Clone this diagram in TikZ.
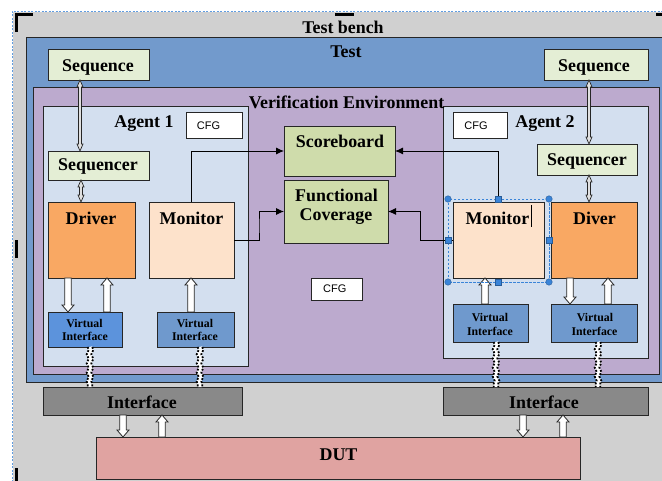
\documentclass[tikz,border=0pt]{standalone}
\usepackage{fontspec}
\setmainfont{Liberation Serif}
\newfontfamily\cfgfont{Liberation Sans}
\usetikzlibrary{calc,arrows.meta,decorations.pathmorphing}

\definecolor{benchgrey}{HTML}{D0D0D0}
\definecolor{testblue}{HTML}{729ACC}
\definecolor{vepurple}{HTML}{BCAACE}
\definecolor{agentblue}{HTML}{D3DFEF}
\definecolor{seqgreen}{HTML}{E4EED5}
\definecolor{drvorange}{HTML}{F9A863}
\definecolor{monpeach}{HTML}{FDE2CB}
\definecolor{sbgreen}{HTML}{CFDCAB}
\definecolor{viblue}{HTML}{5C93DC}
\definecolor{vigrey}{HTML}{6F99CD}
\definecolor{ifgrey}{HTML}{898989}
\definecolor{dutpink}{HTML}{E0A3A1}
\definecolor{selblue}{HTML}{3A84D8}

\newcommand\mkbox[6]{\node[#6, minimum width={(#4)-(#2)}, minimum height={(#5)-(#3)}] (#1) at ({((#2)+(#4))/2},{((#3)+(#5))/2}) {};}
\newcommand\mktext[5]{\node[#4, anchor=base] (#1) at (#2,#3) {#5};}
% hollow block arrow: x from tail, y from tail and tip
\newcommand\blockarrow[2]{\draw[hollowarrow] let \p1=(#1), \p2=(#2), \n1={(\y2-\y1)/abs(\y2-\y1)} in
  (\x1-3.3pt,\y1) -- (\x1-3.3pt,\y2-\n1*7pt) -- (\x1-6pt,\y2-\n1*7pt) -- (\x1,\y2) -- (\x1+6pt,\y2-\n1*7pt) -- (\x1+3.3pt,\y2-\n1*7pt) -- (\x1+3.3pt,\y1) -- cycle;}
% thin double-headed arrow
\newcommand\thinarrow[2]{\draw[thinarr] let \p1=(#1), \p2=(#2), \n1={(\y2-\y1)/abs(\y2-\y1)} in
  (\x1,\y1) -- (\x1+3pt,\y1+\n1*7pt) -- (\x1+1.5pt,\y1+\n1*7pt) -- (\x1+1.5pt,\y2-\n1*7pt) -- (\x1+3pt,\y2-\n1*7pt) -- (\x1,\y2)
  -- (\x1-3pt,\y2-\n1*7pt) -- (\x1-1.5pt,\y2-\n1*7pt) -- (\x1-1.5pt,\y1+\n1*7pt) -- (\x1-3pt,\y1+\n1*7pt) -- cycle;}
% dotted squiggle link
\newcommand\squig[2]{%
  \draw[squigwhite] (#1) -- (#2);
  \draw[squigdots, transform canvas={xshift=-2.3pt}] (#1) -- (#2);
  \draw[squigdots, transform canvas={xshift=2.3pt}] (#1) -- (#2);}

\begin{document}
\begin{tikzpicture}[x=1pt,y=-1pt,
  every node/.style={inner sep=0pt, outer sep=0pt},
  bx/.style={draw=black!85, line width=0.9pt, rectangle},
  big/.style={font=\fontsize{17.9}{20}\selectfont\bfseries},
  small/.style={font=\fontsize{11.8}{13}\selectfont\bfseries},
  cfgtxt/.style={font=\cfgfont\fontsize{11}{13}\selectfont},
  conn/.style={draw=black, line width=0.9pt, -{Latex[length=8pt,width=7pt]}},
  hollowarrow/.style={draw=black!85, line width=0.8pt, fill=white},
  thinarr/.style={draw=black!85, line width=0.7pt, fill=black!12},
  squigwhite/.style={draw=white, line width=4.5pt, decorate, decoration={snake, amplitude=1pt, segment length=9pt}},
  squigdots/.style={draw=black, line width=1.8pt, dash pattern=on 1.8pt off 1.6pt, decorate, decoration={snake, amplitude=1pt, segment length=9pt}},
  selline/.style={draw=selblue, line width=0.9pt, dash pattern=on 2.5pt off 1.5pt},
  selcirc/.style={circle, fill=selblue, draw=selblue!70!black, line width=0.4pt, minimum size=6.5pt},
  selsq/.style={rectangle, fill=selblue, draw=selblue!70!black, line width=0.4pt, minimum size=6pt}
]
\useasboundingbox (0,0) rectangle (662,481);
\fill[white] (0,0) rectangle (662,481);

% containers
\mkbox{bench}{13}{12}{664}{482}{fill=benchgrey}
\mkbox{test}{26}{37}{664}{382}{bx, fill=testblue}
\mkbox{ve}{33}{87}{659}{374}{bx, fill=vepurple}
\mkbox{agentA}{43}{106}{248}{366}{bx, fill=agentblue}
\mkbox{agentB}{443}{106}{648}{358}{bx, fill=agentblue}

% boxes
\mkbox{seqA}{48}{49}{149}{80}{bx, fill=seqgreen}
\mkbox{seqB}{544}{49}{648}{80}{bx, fill=seqgreen}
\mkbox{sqrA}{48}{151}{149}{180}{bx, fill=seqgreen}
\mkbox{sqrB}{537}{144}{637}{175}{bx, fill=seqgreen}
\mkbox{cfgA}{186}{112}{242}{138}{bx, fill=white}
\mkbox{cfgB}{453}{112}{507}{138}{bx, fill=white}
\mkbox{cfgC}{311}{278}{362}{300}{bx, fill=white}
\mkbox{drv}{48}{202}{135}{278}{bx, fill=drvorange}
\mkbox{monA}{149}{202}{234}{278}{bx, fill=monpeach}
\mkbox{monB}{453}{202}{544}{278}{bx, fill=monpeach}
\mkbox{dvr}{551}{202}{637}{278}{bx, fill=drvorange}
\mkbox{sb}{284}{126}{395}{176}{bx, fill=sbgreen}
\mkbox{fc}{284}{180}{388}{243}{bx, fill=sbgreen}
\mkbox{viA}{48}{312}{122}{347}{bx, fill=viblue}
\mkbox{viB}{157}{312}{234}{347}{bx, fill=vigrey}
\mkbox{viC}{453}{304}{528}{342}{bx, fill=vigrey}
\mkbox{viD}{551}{304}{637}{342}{bx, fill=vigrey}
\mkbox{ifA}{43}{387}{242}{415}{bx, fill=ifgrey}
\mkbox{ifB}{443}{387}{648}{415}{bx, fill=ifgrey}
\mkbox{dut}{96}{437}{580}{479}{bx, fill=dutpink}

% monitor connectors
\draw[conn] (monA.north) |- (sb.west);
\draw[conn] (monA.east) -| ($(monA.east)!0.5!(fc.west)$) |- (fc.west);
\draw[conn] (monB.north) |- (sb.east);
\draw[conn] (monB.west) -| ($(monB.west)!0.5!(fc.east)$) |- (fc.east);

% sequence <-> sequencer <-> driver
\thinarrow{[xshift=-18.5pt]seqA.south}{sqrA.north}
\thinarrow{[xshift=-17.5pt]sqrA.south}{drv.north}
\thinarrow{[xshift=-7pt]seqB.south}{sqrB.north}
\thinarrow{[xshift=2pt]sqrB.south}{dvr.north}

% block arrows
\blockarrow{[xshift=-23.5pt]drv.south}{viA.north}
\blockarrow{[xshift=22pt]viA.north}{drv.south}
\blockarrow{[xshift=-4.5pt]viB.north}{monA.south}
\blockarrow{[xshift=-5.5pt]viC.north}{monB.south}
\blockarrow{[xshift=-24pt]dvr.south}{viD.north}
\blockarrow{[xshift=14pt]viD.north}{dvr.south}
\blockarrow{[xshift=-19.5pt]ifA.south}{dut.north}
\blockarrow{[xshift=-176pt]dut.north}{ifA.south}
\blockarrow{[xshift=-22.5pt]ifB.south}{dut.north}
\blockarrow{[xshift=225pt]dut.north}{ifB.south}

% squiggly virtual links
\coordinate (sqA) at ([xshift=5pt]viA.south);
\coordinate (sqB) at ([xshift=4.5pt]viB.south);
\coordinate (sqC) at ([xshift=5.5pt]viC.south);
\coordinate (sqD) at ([xshift=4pt]viD.south);
\squig{sqA}{sqA |- ifA.north}
\squig{sqB}{sqB |- ifA.north}
\squig{sqC}{sqC |- ifB.north}
\squig{sqD}{sqD |- ifB.north}

% texts
\mktext{tBench}{343}{33.5}{big}{Test bench}
\mktext{tTest}{346}{58}{big}{Test}
\mktext{tVE}{346.5}{109}{big}{Verification Environment}
\mktext{tAgA}{144}{128}{big}{Agent 1}
\mktext{tAgB}{545}{128}{big}{Agent 2}
\mktext{tSeqA}{98}{71.5}{big}{Sequence}
\mktext{tSeqB}{594}{71.5}{big}{Sequence}
\mktext{tSqrA}{98}{171}{big}{Sequencer}
\mktext{tSqrB}{587}{166}{big}{Sequencer}
\mktext{tDrv}{91}{225}{big}{Driver}
\mktext{tMonA}{191.5}{225}{big}{Monitor}
\mktext{tMonB}{497.5}{225}{big}{Monitor}
\mktext{tDvr}{594.5}{225}{big}{Diver}
\mktext{tSb}{340}{148}{big}{Scoreboard}
\mktext{tFc1}{336.5}{202}{big}{Functional}
\mktext{tFc2}{336}{221}{big}{Coverage}
\mktext{tCfgA}{208.5}{130}{cfgtxt}{CFG}
\mktext{tCfgB}{476}{130}{cfgtxt}{CFG}
\mktext{tCfgC}{334.7}{293}{cfgtxt}{CFG}
\mktext{tViA1}{84.5}{327}{small}{Virtual}
\mktext{tViA2}{85}{341}{small}{Interface}
\mktext{tViB1}{195}{327}{small}{Virtual}
\mktext{tViB2}{195}{341}{small}{Interface}
\mktext{tViC1}{490}{322}{small}{Virtual}
\mktext{tViC2}{490}{336}{small}{Interface}
\mktext{tViD1}{595}{322}{small}{Virtual}
\mktext{tViD2}{594.5}{336}{small}{Interface}
\mktext{tIfA}{142}{408}{big}{Interface}
\mktext{tIfB}{544}{408}{big}{Interface}
\mktext{tDut}{338.5}{460}{big}{DUT}

% text cursor after Monitor
\draw[black, line width=1.2pt] (531.5,205) -- (531.5,227);

% selection handles around right monitor
\draw[selline] (448,199) rectangle (549,282);
\node[selcirc] (hc1) at (448,199) {};
\node[selcirc] (hc2) at (549,199) {};
\node[selcirc] (hc3) at (448,282) {};
\node[selcirc] (hc4) at (549,282) {};
\node[selsq] (hs1) at (498.5,199) {};
\node[selsq] (hs2) at (498.5,282) {};
\node[selsq] (hs3) at (448,240.5) {};
\node[selsq] (hs4) at (549,240.5) {};

% outer selection frame and marks
\draw[draw=selblue!80, line width=0.8pt, dash pattern=on 2pt off 1.5pt] (12,482) -- (12,11) -- (664,11);
\fill[black] (14.5,13) rectangle (33,16);
\fill[black] (14.5,13) rectangle (17.5,32);
\fill[black] (335,13) rectangle (354,16);
\fill[black] (656,13) rectangle (664,16);
\fill[black] (14.5,240) rectangle (17.5,258);
\fill[black] (14.5,468) rectangle (17.5,482);
\end{tikzpicture}
\end{document}
